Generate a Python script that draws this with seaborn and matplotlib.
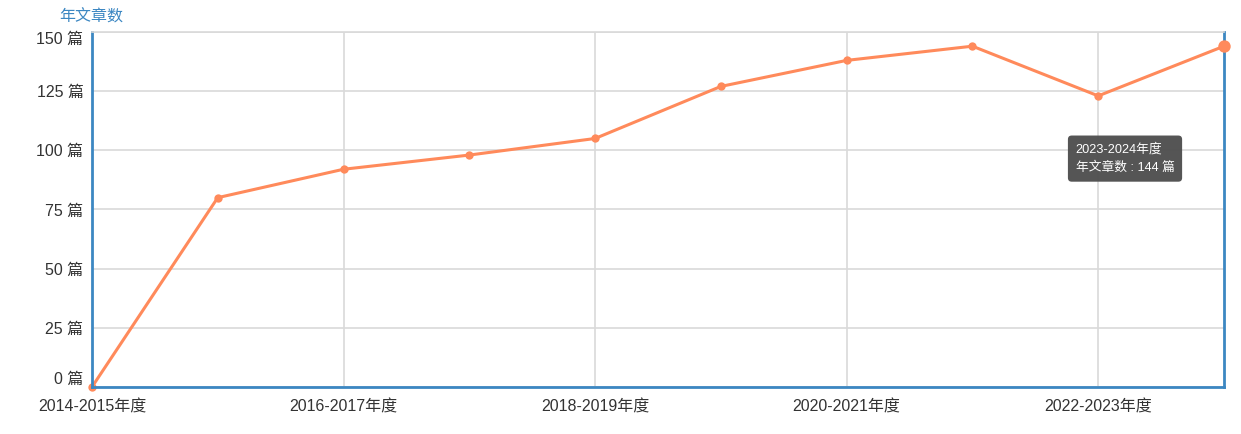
import matplotlib
matplotlib.use("Agg")
import matplotlib.pyplot as plt
import seaborn as sns
import pandas as pd

years = ["2014-2015年度", "2015-2016年度", "2016-2017年度", "2017-2018年度",
         "2018-2019年度", "2019-2020年度", "2020-2021年度", "2021-2022年度",
         "2022-2023年度", "2023-2024年度"]
counts = [0, 80, 92, 98, 105, 127, 138, 144, 123, 144]
y_ticks = [0, 25, 50, 75, 100, 125, 150]

sns.set_style("white")
plt.rcParams['font.family'] = ['Liberation Sans', 'Noto Sans CJK SC', 'DejaVu Sans']

df = pd.DataFrame({'idx': range(len(years)), 'year': years, 'count': counts})

line_color = '#ff8a5b'
axis_blue = '#3c87c2'

fig = plt.figure(figsize=(12.41, 4.34), dpi=100)
ax = fig.add_axes([0.0741, 0.1083, 0.9122, 0.818])

sns.lineplot(data=df, x='idx', y='count', ax=ax, color=line_color,
             linewidth=2.2, marker='o', markersize=6, markeredgewidth=0)
# hovered point
ax.scatter([df['idx'].iloc[-1]], [df['count'].iloc[-1]], s=80, color=line_color,
           zorder=5, clip_on=False, linewidths=0)

ax.set_xlim(0, len(years) - 1)
ax.set_ylim(0, 150)
ax.set_yticks(y_ticks)
ax.set_yticklabels([f"{v} 篇" for v in y_ticks])
ax.set_xticks(df['idx'][::2])
ax.set_xticklabels(df['year'][::2])
for line in ax.get_lines():
    line.set_clip_on(False)

ax.grid(True, color='#d9d9d9', linewidth=1.2)
ax.set_axisbelow(True)
ax.tick_params(axis='both', labelsize=11.5, colors='#333333', length=0, pad=6)
ax.tick_params(axis='x', length=5, color=axis_blue, width=1, pad=4)

# first and last y labels pushed inside like the original
ylabels = ax.get_yticklabels()
ylabels[0].set_va('bottom')
ylabels[-1].set_va('top')

for side in ['left', 'bottom', 'right']:
    ax.spines[side].set_color(axis_blue)
    ax.spines[side].set_linewidth(2)
ax.spines['top'].set_color('#d9d9d9')
ax.spines['top'].set_linewidth(1.2)

ax.set_xlabel('')
ax.set_ylabel('')
fig.text(0.0475, 0.962, '年文章数', color=axis_blue, fontsize=11.5, va='center')

ax.text(7.82, 96.5, "2023-2024年度\n年文章数 : 144 篇", fontsize=9.2, color='white',
        va='center', ha='left', linespacing=1.6,
        bbox=dict(boxstyle='round,pad=0.6,rounding_size=0.3', fc='#4f4f4f', ec='none', alpha=0.97))

fig.savefig('out.png', dpi=100)
